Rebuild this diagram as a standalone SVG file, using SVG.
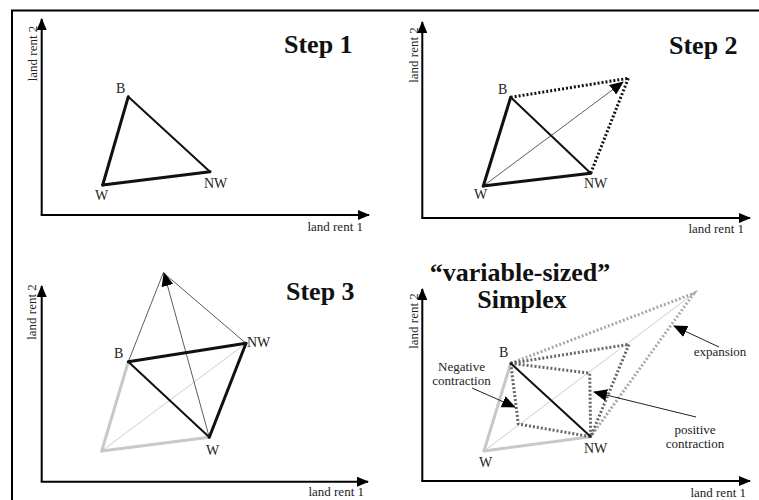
<svg xmlns="http://www.w3.org/2000/svg" width="759" height="500" viewBox="0 0 759 500">
<style>
.axis{stroke:#000;stroke-width:2;fill:none}
text{font-family:'Liberation Serif','Times New Roman','DejaVu Serif',serif}
.lbl{font-size:14px;fill:#222}
.ax{font-size:13px;fill:#222}
.title{font-size:26px;font-weight:bold;fill:#111}
.thick{stroke:#111;stroke-width:3;fill:none;stroke-linecap:round}
.med{stroke:#111;stroke-width:2;fill:none;stroke-linecap:round}
.thin{stroke:#333;stroke-width:0.8;fill:none}
.gthick{stroke:#c8c8c8;stroke-width:3;fill:none;stroke-linecap:round}
.gthin{stroke:#cfcfcf;stroke-width:1;fill:none}
.dot{stroke:#111;stroke-width:3;fill:none;stroke-dasharray:2 2}
.dotd{stroke:#666;stroke-width:3;fill:none;stroke-dasharray:2 2}
.dotl{stroke:#a8a8a8;stroke-width:3;fill:none;stroke-dasharray:2 2}
.ann{stroke:#222;stroke-width:1;fill:none}
</style>
<defs>
<marker id="axh" markerUnits="userSpaceOnUse" viewBox="0 0 12 10" refX="11" refY="5" markerWidth="12" markerHeight="10" orient="auto">
<path d="M0,0 L12,5 L0,10 Z" fill="#000"/>
</marker>
<marker id="arh" markerUnits="userSpaceOnUse" viewBox="0 0 14 12" refX="13" refY="6" markerWidth="14" markerHeight="12" orient="auto">
<path d="M0,0 L14,6 L0,12 Z" fill="#000"/>
</marker>
</defs>
<rect width="759" height="500" fill="#fff"/>
<path d="M12,500 L12,10.5 L759,10.5" stroke="#000" stroke-width="2" fill="none"/>

<g id="panel1">
<line class="axis" x1="41.7" y1="215" x2="41.7" y2="19" marker-end="url(#axh)"/>
<line class="axis" x1="40.7" y1="215" x2="369" y2="215" marker-end="url(#axh)"/>
<text class="ax" font-family="Liberation Serif, serif" transform="translate(37,53.5) rotate(-90)" text-anchor="middle">land rent 2</text>
<text class="ax" font-family="Liberation Serif, serif" x="363" y="231" text-anchor="end">land rent 1</text>
<text class="title" font-family="Liberation Serif, serif" x="284" y="53">Step 1</text>
<g id="p1-triangle">
<line class="thick" x1="128.3" y1="96.7" x2="102.7" y2="185"/>
<line class="thick" x1="102.7" y1="185" x2="210" y2="171.7"/>
<line class="med" x1="128.3" y1="96.7" x2="210" y2="171.7"/>
</g>
<text class="lbl" font-family="Liberation Serif, serif" x="116" y="93">B</text>
<text class="lbl" font-family="Liberation Serif, serif" x="95" y="200">W</text>
<text class="lbl" font-family="Liberation Serif, serif" x="204" y="188">NW</text>
</g>

<g id="panel2">
<line class="axis" x1="422.3" y1="218" x2="422.3" y2="22" marker-end="url(#axh)"/>
<line class="axis" x1="421.3" y1="218" x2="750" y2="218" marker-end="url(#axh)"/>
<text class="ax" font-family="Liberation Serif, serif" transform="translate(418,55) rotate(-90)" text-anchor="middle">land rent 2</text>
<text class="ax" font-family="Liberation Serif, serif" x="744" y="233" text-anchor="end">land rent 1</text>
<text class="title" font-family="Liberation Serif, serif" x="669" y="54">Step 2</text>
<g id="p2-lines">
<line class="dot" x1="510.7" y1="97.3" x2="628.3" y2="78.3"/>
<line class="dot" x1="628.3" y1="78.3" x2="590.7" y2="173.3"/>
<line class="thin" x1="483.3" y1="186" x2="623" y2="82" marker-end="url(#arh)"/>
<line class="thick" x1="510.7" y1="97.3" x2="483.3" y2="186"/>
<line class="thick" x1="483.3" y1="186" x2="590.7" y2="173.3"/>
<line class="med" x1="510.7" y1="97.3" x2="590.7" y2="173.3"/>
</g>
<text class="lbl" font-family="Liberation Serif, serif" x="498" y="94">B</text>
<text class="lbl" font-family="Liberation Serif, serif" x="474" y="199">W</text>
<text class="lbl" font-family="Liberation Serif, serif" x="584" y="188">NW</text>
</g>

<g id="panel3">
<line class="axis" x1="41.7" y1="481.7" x2="41.7" y2="286" marker-end="url(#axh)"/>
<line class="axis" x1="40.7" y1="481.7" x2="368" y2="481.7" marker-end="url(#axh)"/>
<text class="ax" font-family="Liberation Serif, serif" transform="translate(36,312) rotate(-90)" text-anchor="middle">land rent 2</text>
<text class="ax" font-family="Liberation Serif, serif" x="364" y="496" text-anchor="end">land rent 1</text>
<text class="title" font-family="Liberation Serif, serif" x="286" y="300">Step 3</text>
<g id="p3-lines">
<line class="gthin" x1="101.7" y1="451" x2="246" y2="343.3"/>
<line class="gthick" x1="128.3" y1="361.7" x2="101.7" y2="451"/>
<line class="gthick" x1="101.7" y1="451" x2="209.3" y2="437.3"/>
<line class="thin" x1="128.3" y1="361.7" x2="163.3" y2="272.7"/>
<line class="thin" x1="163.3" y1="272.7" x2="246" y2="343.3"/>
<line class="thin" x1="209.3" y1="437.3" x2="164" y2="273" marker-end="url(#arh)"/>
<line class="thick" x1="128.3" y1="361.7" x2="246" y2="343.3"/>
<line class="thick" x1="246" y1="343.3" x2="209.3" y2="437.3"/>
<line class="med" x1="128.3" y1="361.7" x2="209.3" y2="437.3"/>
</g>
<text class="lbl" font-family="Liberation Serif, serif" x="114" y="358">B</text>
<text class="lbl" font-family="Liberation Serif, serif" x="247" y="347">NW</text>
<text class="lbl" font-family="Liberation Serif, serif" x="206" y="455">W</text>
</g>

<g id="panel4">
<line class="axis" x1="422.3" y1="481" x2="422.3" y2="289" marker-end="url(#axh)"/>
<line class="axis" x1="421.3" y1="481" x2="750" y2="481" marker-end="url(#axh)"/>
<text class="ax" font-family="Liberation Serif, serif" transform="translate(418,321) rotate(-90)" text-anchor="middle">land rent 2</text>
<text class="ax" font-family="Liberation Serif, serif" x="746" y="497" text-anchor="end">land rent 1</text>
<text class="title" font-family="Liberation Serif, serif" x="520" y="281" text-anchor="middle">“variable-sized”</text>
<text class="title" font-family="Liberation Serif, serif" x="522" y="308" text-anchor="middle">Simplex</text>
<g id="p4-lines">
<line class="gthin" x1="484" y1="451" x2="694" y2="293.3"/>
<line class="gthick" x1="510.7" y1="363.3" x2="484" y2="451"/>
<line class="gthick" x1="484" y1="451" x2="590.7" y2="436.7"/>
<polyline class="dotl" points="510.7,363.3 694,293.3 590.7,436.7"/>
<polyline class="dotd" points="510.7,363.3 629,344.3 590.7,436.7"/>
<polyline class="dotd" points="510.7,363.3 589.7,373.3 590.7,436.7"/>
<polyline class="dotd" points="510.7,363.3 518.3,424 590.7,436.7"/>
<line class="med" x1="510.7" y1="363.3" x2="590.7" y2="436.7"/>
</g>
<text class="lbl" font-family="Liberation Serif, serif" x="499" y="357">B</text>
<text class="lbl" font-family="Liberation Serif, serif" x="479" y="467">W</text>
<text class="lbl" font-family="Liberation Serif, serif" x="584" y="453">NW</text>
</g>

<g id="connectors">
<line class="ann" x1="472" y1="388" x2="515" y2="407" marker-end="url(#arh)"/>
<line class="ann" x1="719" y1="347" x2="674" y2="326" marker-end="url(#arh)"/>
<line class="ann" x1="696" y1="417" x2="594" y2="392" marker-end="url(#arh)"/>
</g>

<g id="annotations">
<text class="ax" font-family="Liberation Serif, serif" x="461.5" y="371" text-anchor="middle">Negative</text>
<text class="ax" font-family="Liberation Serif, serif" x="461.5" y="385" text-anchor="middle">contraction</text>
<text class="ax" font-family="Liberation Serif, serif" x="720" y="356" text-anchor="middle">expansion</text>
<text class="ax" font-family="Liberation Serif, serif" x="695" y="434" text-anchor="middle">positive</text>
<text class="ax" font-family="Liberation Serif, serif" x="695" y="448" text-anchor="middle">contraction</text>
</g>
</svg>
